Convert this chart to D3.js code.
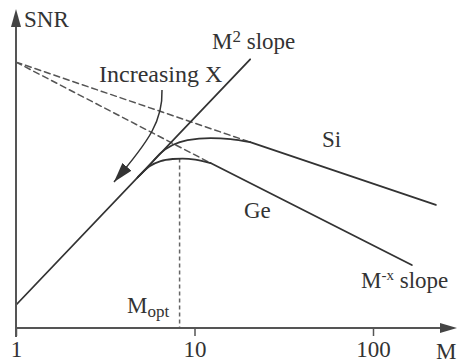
<!DOCTYPE html>
<html>
<head>
<meta charset="utf-8">
<script src="https://cdn.jsdelivr.net/npm/d3@7"></script>
<style>
  body { margin: 0; background: #fff; }
  svg text { font-family: "Liberation Serif", "Times New Roman", "DejaVu Serif", serif; fill: #333; }
</style>
</head>
<body>
<div id="chart"></div>
<script>
// M on a log axis, SNR on a log axis (arbitrary units)
const tickValues = [1, 10, 100];

// M^2 slope line
const slopeM = [1, 20.5];
const slopeSNR = [1, 420];

// Si curve: rounded knee, then straight M^-x part
const siKneeM = [4.8, 5.6, 6.46, 7.54, 9.14, 12.3, 15.9, 20.5];
const siKneeSNR = [23, 31.2, 41.9, 51, 57.7, 60.6, 59.1, 54.9];
const siTailM = [20.5, 225];
const siTailSNR = [54.9, 11.7];

// Ge curve
const geKneeM = [4.8, 5.6, 6.46, 7.54, 8.57, 10.1, 12.3];
const geKneeSNR = [23, 30.3, 34.4, 36.2, 36.6, 35.7, 32.8];
const geTailM = [12.3, 165];
const geTailSNR = [32.8, 2.67];

// dashed extrapolations of the M^-x part back to M = 1
const siDashM = [1, 20.5];
const siDashSNR = [392, 54.9];
const geDashM = [1, 12.3];
const geDashSNR = [392, 32.8];

// optimum gain for Ge
const mOpt = 8.25;
const mOptSNR = 36.6;

const W = 458, H = 364;
const axisY = 328, axisX = 16;
const FS = 23;

const svg = d3.select("#chart").append("svg")
    .attr("width", W)
    .attr("height", H);

const x = d3.scaleLog().domain([1, 100]).range([16, 373]);
const y = d3.scaleLog().domain([1, 1000]).range([305, 24]);

const line = d3.line().x(d => x(d[0])).y(d => y(d[1]));
const smooth = d3.line().x(d => x(d[0])).y(d => y(d[1])).curve(d3.curveMonotoneX);

const zip = (a, b) => a.map((v, i) => [v, b[i]]);

function draw(gen, pts, color, width, dash) {
    svg.append("path")
        .attr("d", gen(pts))
        .attr("fill", "none")
        .attr("stroke", color)
        .attr("stroke-width", width)
        .attr("stroke-dasharray", dash || null)
        .attr("stroke-linecap", "round");
}

// dashed lines
draw(line, zip(siDashM, siDashSNR), "#555", 1.5, "6,4");
draw(line, zip(geDashM, geDashSNR), "#555", 1.5, "6,4");

// Mopt marker
svg.append("line")
    .attr("x1", x(mOpt)).attr("x2", x(mOpt))
    .attr("y1", y(mOptSNR)).attr("y2", axisY)
    .attr("stroke", "#666").attr("stroke-width", 1.5)
    .attr("stroke-dasharray", "4,3");

// M^2 line
draw(line, zip(slopeM, slopeSNR), "#333", 1.8);

// curves
draw(smooth, zip(siKneeM, siKneeSNR), "#333", 1.8);
draw(line, zip(siTailM, siTailSNR), "#333", 1.8);
draw(smooth, zip(geKneeM, geKneeSNR), "#333", 1.8);
draw(line, zip(geTailM, geTailSNR), "#333", 1.8);

// axes
svg.append("line")
    .attr("x1", axisX).attr("x2", 446)
    .attr("y1", axisY).attr("y2", axisY)
    .attr("stroke", "#555").attr("stroke-width", 2);
svg.append("path")
    .attr("d", `M457,${axisY} L440,${axisY - 5} L440,${axisY + 5} Z`)
    .attr("fill", "#444");
svg.append("line")
    .attr("x1", axisX).attr("x2", axisX)
    .attr("y1", 337).attr("y2", 22)
    .attr("stroke", "#555").attr("stroke-width", 2);
svg.append("path")
    .attr("d", `M${axisX},9 L${axisX - 5},27 L${axisX + 5},27 Z`)
    .attr("fill", "#444");

const xAxis = svg.append("g")
    .attr("transform", `translate(0,${axisY})`)
    .call(d3.axisBottom(x).tickValues(tickValues).tickFormat(d3.format("d"))
        .tickSize(8).tickPadding(5));
xAxis.attr("font-family", null);
xAxis.select(".domain").remove();
xAxis.selectAll(".tick line").attr("stroke", "#555").attr("stroke-width", 1.5);
xAxis.selectAll(".tick text")
    .attr("font-size", FS).attr("fill", "#333");

// labels
svg.append("text").attr("x", 24).attr("y", 27).attr("font-size", FS).text("SNR");
svg.append("text").attr("x", 436).attr("y", 359).attr("font-size", FS).text("M");

const m2 = svg.append("text").attr("x", 212).attr("y", 49).attr("font-size", FS);
m2.append("tspan").text("M");
m2.append("tspan").attr("font-size", 17).attr("dy", -7).text("2");
m2.append("tspan").attr("dy", 7).text(" slope");

const mx = svg.append("text").attr("x", 361).attr("y", 288).attr("font-size", FS);
mx.append("tspan").text("M");
mx.append("tspan").attr("font-size", 15).attr("dy", -8).text("-x");
mx.append("tspan").attr("dy", 8).text(" slope");

const mo = svg.append("text").attr("x", 127).attr("y", 313).attr("font-size", FS);
mo.append("tspan").text("M");
mo.append("tspan").attr("font-size", 17).attr("dy", 4).text("opt");

svg.append("text").attr("x", 99).attr("y", 82).attr("font-size", 24).text("Increasing X");
svg.append("text").attr("x", 322).attr("y", 147).attr("font-size", FS).text("Si");
svg.append("text").attr("x", 244).attr("y", 218).attr("font-size", FS).text("Ge");

// "Increasing X" arrow
svg.append("defs").append("marker")
    .attr("id", "head")
    .attr("markerUnits", "userSpaceOnUse")
    .attr("viewBox", "0 0 20 12")
    .attr("refX", 20).attr("refY", 6)
    .attr("markerWidth", 20).attr("markerHeight", 12)
    .attr("orient", "auto")
  .append("path")
    .attr("d", "M0,0 L20,6 L0,12 Z")
    .attr("fill", "#333");
svg.append("path")
    .attr("d", "M162,90 C163,120 150,140 114,182")
    .attr("fill", "none").attr("stroke", "#333").attr("stroke-width", 1.5)
    .attr("marker-end", "url(#head)");
</script>
</body>
</html>
